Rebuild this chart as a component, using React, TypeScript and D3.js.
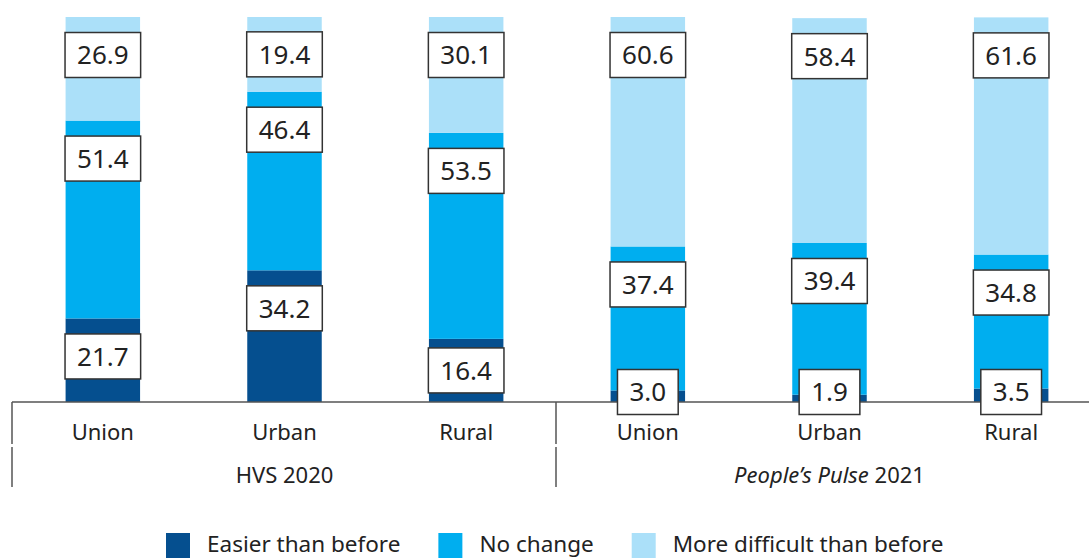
import { useEffect, useRef } from "react";
import * as d3 from "d3";

const categories = ["Union", "Urban", "Rural"];
const groups = ["HVS 2020", "People\u2019s Pulse 2021"];
const barKeys = ["HVS-Union", "HVS-Urban", "HVS-Rural", "PP-Union", "PP-Urban", "PP-Rural"];
const seriesNames = ["Easier than before", "No change", "More difficult than before"];
const easier = [21.7, 34.2, 16.4, 3.0, 1.9, 3.5];
const noChange = [51.4, 46.4, 53.5, 37.4, 39.4, 34.8];
const moreDifficult = [26.9, 19.4, 30.1, 60.6, 58.4, 61.6];

const colors = ["#054f8f", "#00aeef", "#abe0f9"];
const W = 1089;
const H = 558;
const FONT = "'Noto Sans', 'Open Sans', sans-serif";

const App = () => {
  const ref = useRef<SVGSVGElement | null>(null);

  useEffect(() => {
    document.body.style.margin = "0";
    if (!ref.current) return;
    const svg = d3.select(ref.current);
    svg.selectAll("*").remove();

    const axisY = 402;
    const x = d3.scaleBand<string>().domain(barKeys).range([12, 1102]).padding(0);
    const barW = x.bandwidth() * 0.41;
    const y = d3.scaleLinear().domain([0, 100]).range([axisY, 17]).clamp(true);

    const rows = barKeys.map((key, i) => ({
      key,
      easier: easier[i],
      noChange: noChange[i],
      moreDifficult: moreDifficult[i],
    }));
    const stack = d3.stack<(typeof rows)[number]>().keys(["easier", "noChange", "moreDifficult"]);
    const layers = stack(rows);

    const bars = svg.append("g");
    layers.forEach((layer, li) => {
      bars
        .selectAll(`rect.s${li}`)
        .data(layer)
        .enter()
        .append("rect")
        .attr("class", `s${li}`)
        .attr("x", d => x(d.data.key)! + (x.bandwidth() - barW) / 2)
        .attr("width", barW)
        .attr("y", d => y(d[1]))
        .attr("height", d => y(d[0]) - y(d[1]))
        .attr("fill", colors[li]);
    });

    // axis lines
    const axis = svg.append("g").attr("stroke", "#555").attr("stroke-width", 1.5);
    axis.append("line").attr("x1", 12).attr("x2", W).attr("y1", axisY).attr("y2", axisY);
    [12, 556].forEach(px => {
      axis.append("line").attr("x1", px).attr("x2", px).attr("y1", axisY).attr("y2", 444);
      axis.append("line").attr("x1", px).attr("x2", px).attr("y1", 447).attr("y2", 487);
    });

    // value labels
    const labels = svg.append("g").attr("font-family", FONT).attr("font-size", 26).attr("fill", "#222");
    layers.forEach(layer => {
      layer.forEach(d => {
        const cx = x(d.data.key)! + x.bandwidth() / 2;
        const top = y(d[1]);
        const bottom = y(d[0]);
        const cy = Math.min(top + 38, (top + bottom) / 2, axisY - 10);
        const g = labels.append("g");
        const rect = g.append("rect");
        const t = g
          .append("text")
          .attr("x", cx)
          .attr("y", cy)
          .attr("text-anchor", "middle")
          .attr("dy", "0.36em")
          .text((d[1] - d[0]).toFixed(1));
        const tw = (t.node() as SVGTextElement).getComputedTextLength();
        const bw = tw + 24;
        const bh = 45;
        rect
          .attr("x", cx - bw / 2)
          .attr("y", cy - bh / 2)
          .attr("width", bw)
          .attr("height", bh)
          .attr("fill", "white")
          .attr("stroke", "#333")
          .attr("stroke-width", 1.5);
      });
    });

    // category labels
    const cat = svg.append("g").attr("font-family", FONT).attr("font-size", 22).attr("fill", "#222");
    barKeys.forEach((key, i) => {
      cat
        .append("text")
        .attr("x", x(key)! + x.bandwidth() / 2)
        .attr("y", 440)
        .attr("text-anchor", "middle")
        .text(categories[i % 3]);
    });

    // group labels
    const g0 = svg.append("g").attr("font-family", FONT).attr("font-size", 22).attr("fill", "#222");
    const groupCenter = (gi: number) => {
      const first = x(barKeys[gi * 3])!;
      const last = x(barKeys[gi * 3 + 2])! + x.bandwidth();
      return (first + last) / 2;
    };
    g0.append("text").attr("x", groupCenter(0)).attr("y", 483).attr("text-anchor", "middle").text(groups[0]);
    const pp = g0.append("text").attr("x", groupCenter(1)).attr("y", 483).attr("text-anchor", "middle");
    const [ppName, ppYear] = [groups[1].replace(/ \d+$/, ""), groups[1].match(/\d+$/)![0]];
    pp.append("tspan").attr("font-style", "italic").text(ppName);
    pp.append("tspan").text(" " + ppYear);

    // legend
    const legend = svg.append("g").attr("font-family", FONT).attr("font-size", 22.5).attr("fill", "#222");
    let lx = 166;
    seriesNames.forEach((name, i) => {
      legend.append("rect").attr("x", lx).attr("y", 533).attr("width", 24).attr("height", 30).attr("fill", colors[i]);
      const t = legend.append("text").attr("x", lx + 41).attr("y", 552).text(name);
      const tw = (t.node() as SVGTextElement).getComputedTextLength();
      lx += 41 + tw + 38;
    });
  }, []);

  return <svg ref={ref} width={W} height={H} style={{ display: "block" }} />;
};

export default App;
